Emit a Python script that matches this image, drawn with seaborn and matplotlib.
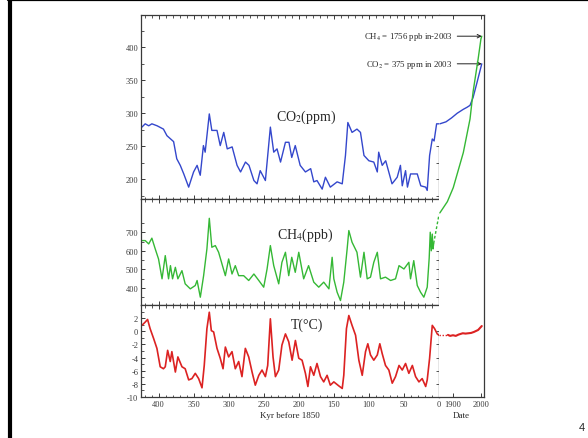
import matplotlib
matplotlib.use('Agg')
import matplotlib.pyplot as plt
import seaborn as sns
from matplotlib.ticker import MultipleLocator, FixedLocator
from matplotlib.lines import Line2D

# Vostok ice core record
co2_kyr = [423.7, 419, 414, 409.5, 402, 393, 388, 378.5, 374, 369, 364, 357, 350, 345, 340.5,
           336, 333.5, 327.6, 324, 316.6, 312, 307, 302, 295, 288, 283, 276, 271, 264, 259.5,
           255, 247.6, 240.5, 235.7, 231, 226, 219, 214, 210, 205, 198, 190.5, 183, 178.6, 174,
           166.6, 162, 155, 145.3, 138, 133.4, 130, 124, 117, 112, 107, 100, 93, 88, 86, 81, 76,
           67, 59.6, 55, 52.4, 47.7, 45, 40.6, 31, 26, 19, 16.8, 13.4, 9.6, 7, 3.4, 0]
co2_ppm = [279, 284, 281, 284, 281, 276, 266, 257, 231, 221, 208, 188, 211, 221, 206,
           251, 241, 299, 274, 274, 251, 271, 246, 249, 221, 211, 226, 221, 198, 193,
           213, 198, 279, 241, 246, 226, 256, 256, 233, 251, 221, 211, 216, 196, 198,
           185, 203, 188, 196, 193, 236, 286, 271, 276, 271, 236, 228, 226, 211, 241, 221, 228,
           193, 203, 221, 190, 213, 188, 208, 208, 190, 188, 183, 236, 261, 258, 284, 284]

ch4_kyr = [423.7, 419, 414, 409.5, 404.7, 400, 395, 390.4, 385.7, 383, 380, 376, 372.4, 366.6,
           362, 354.7, 347.6, 345, 340.4, 335.7, 331, 327.6, 324, 319, 314.3, 309.5, 304.7, 300,
           295.2, 290.5, 285.7, 278.6, 271.4, 264, 257, 250, 245.2, 240.5, 235.7, 228.6, 224, 219,
           214.3, 210, 205, 200, 193, 186, 178.6, 171.5, 164.4, 157, 152.4, 150, 145.3, 140.5,
           135.8, 131, 128.6, 124, 117, 112, 107, 102.4, 97.7, 93, 88, 83.4, 76.3, 69, 62, 57, 50,
           43, 40.6, 36, 31, 26.3, 21.6, 16.8, 14, 12.5, 11, 9.6, 8.5, 7.6]
ch4_ppb = [655, 655, 637, 668, 610, 556, 449, 574, 449, 520, 449, 511, 449, 493,
           422, 395, 413, 440, 350, 466, 610, 775, 619, 628, 592, 529, 466, 556,
           475, 520, 466, 466, 440, 475, 440, 404, 502, 628, 520, 422, 538, 592,
           466, 565, 484, 592, 449, 520, 431, 404, 431, 395, 565, 449, 377, 332,
           431, 610, 709, 646, 592, 458, 592, 449, 458, 538, 592, 449, 458, 440, 449, 520, 502,
           538, 449, 547, 413, 377, 350, 404, 560, 700, 600, 690, 610, 640]
ch4_gap_kyr = [7.6, 0]
ch4_gap_ppb = [640, 795]

t_kyr = [423.7, 419, 415.6, 412, 407, 402.3, 397.6, 393, 390.4, 387, 383.3, 381, 376, 372.4,
         366.6, 362, 357, 352.4, 347.6, 342.8, 338, 334.8, 331, 327.6, 324.7, 321.4, 316.6, 312,
         308, 304.7, 300, 295.2, 290.5, 285.7, 281, 276.2, 271.4, 266.6, 262, 257, 252.4, 247.6,
         244.3, 240.5, 236.7, 233.3, 228.6, 224, 219, 214.3, 209.5, 204.8, 200, 195.3, 190.5, 187,
         183.3, 178.6, 174, 169, 164.4, 159.6, 155, 150, 143, 138, 135.8, 132, 128.6, 124, 119,
         114.3, 109.5, 104.8, 101.5, 97.7, 93, 88, 84.4, 81, 76.3, 71.5, 66.7, 62, 57, 52.4, 47.7,
         43, 38, 33.4, 28.6, 24, 19, 16.8, 13.4, 9.6, 6.3, 2.5, 0]
t_degc = [0.9, 1.4, 1.8, 0.4, -1.1, -2.6, -5.4, -5.7, -5.4, -2.9, -4.6, -3.1, -6.2, -3.9,
          -5.4, -5.7, -7.4, -7.2, -6.4, -7.2, -8.6, -5.2, 0.4, 2.9, 0.1, -0.1, -2.6, -4.1,
          -5.7, -2.4, -3.9, -3.1, -5.7, -4.6, -6.9, -2.6, -3.9, -6.2, -8.2, -6.7, -5.9, -6.9,
          -5.2, 1.9, -3.9, -6.9, -5.9, -2.1, -0.4, -1.6, -4.4, -1.4, -4.1, -4.4, -6.4, -8.4,
          -5.4, -6.7, -4.9, -6.9, -7.7, -6.7, -8.2, -7.7, -8.3, -8.7, -6.7, 0.4, 2.4, 0.9, -0.6,
          -4.4, -6.7, -3.1, -1.9, -3.6, -4.4, -3.6, -1.9, -3.4, -5.2, -5.9, -7.9, -6.9, -5.2, -5.9, -4.9,
          -6.4, -5.2, -6.9, -7.7, -7.2, -8.4, -7.4, -4.1, 0.9, 0.4, -0.4, -0.6]

# instrumental era (date axis)
co2_year = [1853, 1875, 1895, 1915, 1937, 1950, 1961, 1972, 1985, 2003]
co2_recent = [284, 287, 293, 300, 306, 309, 312, 324, 345, 375]
ch4_year = [1853, 1865, 1880, 1901, 1937, 1961, 1972, 1990, 2000, 2003]
ch4_recent = [804, 831, 865, 940, 1129, 1310, 1457, 1633, 1741, 1756]
t_year_dot = [1850, 1882]
t_dot = [-0.6, -0.6]
t_year = [1882, 1890, 1900, 1910, 1920, 1935, 1945, 1955, 1965, 1975, 1990, 2003]
t_recent = [-0.55, -0.7, -0.6, -0.7, -0.5, -0.3, -0.35, -0.3, -0.25, -0.1, 0.2, 0.8]

BLUE = '#3447cc'
GREEN = '#35b835'
RED = '#dc2222'
FRAME = '#3a3a3a'

sns.set_style('ticks')
plt.rcParams['font.family'] = ['Liberation Serif', 'DejaVu Serif']
plt.rcParams['mathtext.fontset'] = 'stix'
plt.rcParams['axes.unicode_minus'] = False
plt.rcParams['axes.edgecolor'] = FRAME
plt.rcParams['xtick.color'] = FRAME
plt.rcParams['ytick.color'] = FRAME

W, H = 588, 439
fig = plt.figure(figsize=(W / 100, H / 100), dpi=100)


def box(x0, y0, x1, y1):
    return [x0 / W, 1 - y1 / H, (x1 - x0) / W, (y1 - y0) / H]


# pixel rows of the panels
TOP, B1, B2, BOT = 16, 200, 306, 398
ax_co2 = fig.add_axes(box(141, TOP, 439, B1))
ax_ch4 = fig.add_axes(box(141, B1, 439, B2))
ax_t = fig.add_axes(box(141, B2, 439, BOT))
ax_d = fig.add_axes(box(439, TOP, 484, BOT))

panels = [
    (ax_co2, (170, 449), TOP, B1, co2_kyr, co2_ppm, BLUE, [175, 200, 225, 250], 250, 1.0),
    (ax_ch4, (308, 879), B1, B2, ch4_kyr, ch4_ppb, GREEN, [350, 400, 450, 500, 550, 600], 600, 1.0),
    (ax_t, (-10, 4), B2, BOT, t_kyr, t_degc, RED, [-10, -8, -6, -4, -2, 0], 0, 1.2),
]

for ax, ylim, ptop, pbot, xs, ys, col, rticks, rtop, lw in panels:
    sns.lineplot(x=xs, y=ys, ax=ax, color=col, lw=lw, sort=False, estimator=None)
    ax.set_xlim(425, 0)
    ax.set_ylim(*ylim)
    ax.xaxis.set_major_locator(MultipleLocator(50))
    ax.xaxis.set_minor_locator(MultipleLocator(10))
    ax.tick_params(axis='both', which='both', direction='in', top=True, bottom=True,
                   right=False, labelsize=6, pad=2)
    ax.tick_params(which='major', length=3, width=0.7)
    ax.tick_params(which='minor', length=1.8, width=0.6)
    ax.tick_params(axis='x', labelbottom=False)
    for s in ax.spines.values():
        s.set_linewidth(0.9)
    ax.spines['right'].set_bounds(ylim[0], rtop)
    sec = ax.secondary_yaxis('right')
    sec.yaxis.set_major_locator(FixedLocator(rticks))
    sec.tick_params(direction='in', length=2.5, width=0.6, labelright=False)
    for s in sec.spines.values():
        s.set_visible(False)
    ax.set_xlabel('')
    ax.set_ylabel('')

sns.lineplot(x=ch4_gap_kyr, y=ch4_gap_ppb, ax=ax_ch4, color=GREEN, lw=1.0, ls=(0, (2, 1.5)),
             sort=False, estimator=None)

ax_co2.yaxis.set_major_locator(MultipleLocator(50))
ax_co2.yaxis.set_minor_locator(MultipleLocator(25))
ax_ch4.yaxis.set_major_locator(FixedLocator([400, 500, 600, 700]))
ax_ch4.yaxis.set_minor_locator(FixedLocator([350, 450, 550, 650, 750]))
ax_t.yaxis.set_major_locator(FixedLocator([-10, -8, -6, -4, -2, 0, 2]))
ax_t.yaxis.set_minor_locator(FixedLocator([-9, -7, -5, -3, -1, 1, 3]))
ax_t.tick_params(axis='x', labelbottom=True)
ax_t.set_xlabel('Kyr before 1850', fontsize=6.5, labelpad=2)

ax_co2.text(189, 296, r'CO$_2$(ppm)', fontsize=10, ha='center', va='center')
ax_ch4.text(191, 690, r'CH$_4$(ppb)', fontsize=10, ha='center', va='center')
ax_t.text(188, 1.0, 'T(°C)', fontsize=10, ha='center', va='center')


# date panel: one tall axis carrying the three scales of the left panels
def extend(ylim, ptop, pbot):
    s = (ylim[1] - ylim[0]) / (pbot - ptop)
    return ylim[0] - (BOT - pbot) * s, ylim[1] + (ptop - TOP) * s


ax_dch4 = ax_d.twinx()
ax_dt = ax_d.twinx()
date_axes = [ax_d, ax_dch4, ax_dt]
for dax, (ax, ylim, ptop, pbot, *_rest) in zip(date_axes, panels):
    dax.set_ylim(*extend(ylim, ptop, pbot))
    dax.set_xlim(1850, 2011)

sns.lineplot(x=co2_year, y=co2_recent, ax=ax_d, color=BLUE, lw=1.0, sort=False, estimator=None)
sns.lineplot(x=ch4_year, y=ch4_recent, ax=ax_dch4, color=GREEN, lw=1.0, sort=False, estimator=None)
sns.lineplot(x=t_year_dot, y=t_dot, ax=ax_dt, color=RED, lw=1.0, ls=(0, (1, 1.2)),
             sort=False, estimator=None)
sns.lineplot(x=t_year, y=t_recent, ax=ax_dt, color=RED, lw=1.5, sort=False, estimator=None)
for dax in date_axes:
    dax.set_ylabel('')
    dax.set_yticks([])

for dax in (ax_dch4, ax_dt):
    for s in dax.spines.values():
        s.set_visible(False)
    dax.tick_params(axis='x', which='both', bottom=False, top=False, labelbottom=False)

ax_d.spines['left'].set_visible(False)
for s in ax_d.spines.values():
    s.set_linewidth(0.9)
ax_d.set_xticks([1900, 2000])
ax_d.set_xticklabels(['1900', '2000'])
ax_d.tick_params(axis='x', direction='in', top=True, bottom=True, length=3, width=0.7,
                 labelsize=6, pad=2)
ax_d.set_xlabel('Date', fontsize=6.5, labelpad=2)

arrow = dict(arrowstyle='->', lw=0.7, color='#222222', shrinkA=1, shrinkB=0)
ax_dch4.annotate('CH$_4$ = 1756 ppb in-2003', xy=(2003, 1756), xytext=(-21, 0),
                 textcoords='offset points', ha='right', va='center', fontsize=6.3,
                 arrowprops=arrow, annotation_clip=False)
ax_d.annotate('CO$_2$ = 375 ppm in 2003', xy=(2003, 375), xytext=(-21, 0),
              textcoords='offset points', ha='right', va='center', fontsize=6.3,
              arrowprops=arrow, annotation_clip=False)

# slide frame and page number
fig.add_artist(Line2D([9.5 / W, 9.5 / W], [0, 1], transform=fig.transFigure, color='black', lw=3))
fig.add_artist(Line2D([8 / W, 1], [1 - 1 / H, 1 - 1 / H], transform=fig.transFigure,
                      color='black', lw=1.6))
fig.text(579 / W, 1 - 428 / H, '4', fontsize=8, family='Liberation Sans', va='center', ha='left')

fig.savefig('out.png', dpi=100)
